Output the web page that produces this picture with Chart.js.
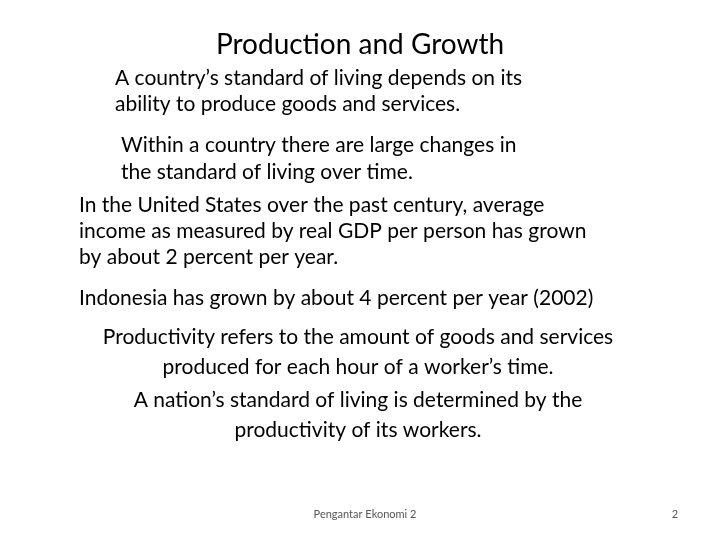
<!DOCTYPE html>
<html><head><meta charset="utf-8">
<script src="https://cdn.jsdelivr.net/npm/chart.js@4"></script>
<style>
html,body{margin:0;padding:0;background:#fff;}
#wrap{position:relative;width:720px;height:540px;overflow:hidden;}
canvas{position:absolute;left:0;top:0;}
</style></head>
<body><div id="wrap"><canvas id="c" width="720" height="540"></canvas></div>
<script>
const titleText = "Production and Growth";
const block1 = ["A country’s standard of living depends on its", "ability to produce goods and services."];
const block2 = ["Within a country there are large changes in", "the standard of living over time."];
const block3 = ["In the United States over the past century, average", "income as measured by real GDP per person has grown", "by about 2 percent per year.", "Indonesia has grown by about 4 percent per year (2002)"];
const block4 = ["Productivity refers to the amount of goods and services", "produced for each hour of a worker’s time.", "A nation’s standard of living is determined by the", "productivity of its workers."];
const footer = "Pengantar Ekonomi 2";
const pageNo = "2";

const textPlugin = {
  id: 'slideText',
  afterDraw(chart) {
    const ctx = chart.ctx;
    ctx.save();
    ctx.fillStyle = '#000';
    ctx.textBaseline = 'middle';
    ctx.font = '28px Lato, "Open Sans", sans-serif';
    ctx.textAlign = 'center';
    ctx.fillText(titleText, 360, 45);
    ctx.font = '21px Lato, "Open Sans", sans-serif';
    ctx.textAlign = 'left';
    block1.forEach((t, i) => ctx.fillText(t, 115, 78 + i * 26));
    block2.forEach((t, i) => ctx.fillText(t, 121, 145 + i * 27));
    const y3 = [205, 231, 257, 298];
    block3.forEach((t, i) => ctx.fillText(t, 79, y3[i]));
    ctx.textAlign = 'center';
    const y4 = [337, 367, 400, 430];
    block4.forEach((t, i) => ctx.fillText(t, 358, y4[i]));
    ctx.font = '11px Lato, "Open Sans", sans-serif';
    ctx.fillStyle = '#555';
    ctx.fillText(footer, 365, 514);
    ctx.fillText(pageNo, 675, 514);
    ctx.restore();
  }
};

new Chart(document.getElementById('c'), {
  type: 'bar',
  data: { labels: [], datasets: [] },
  options: {
    responsive: false, animation: false,
    plugins: { legend: { display: false }, tooltip: { enabled: false } },
    scales: { x: { display: false }, y: { display: false } }
  },
  plugins: [textPlugin]
});
</script></body></html>
